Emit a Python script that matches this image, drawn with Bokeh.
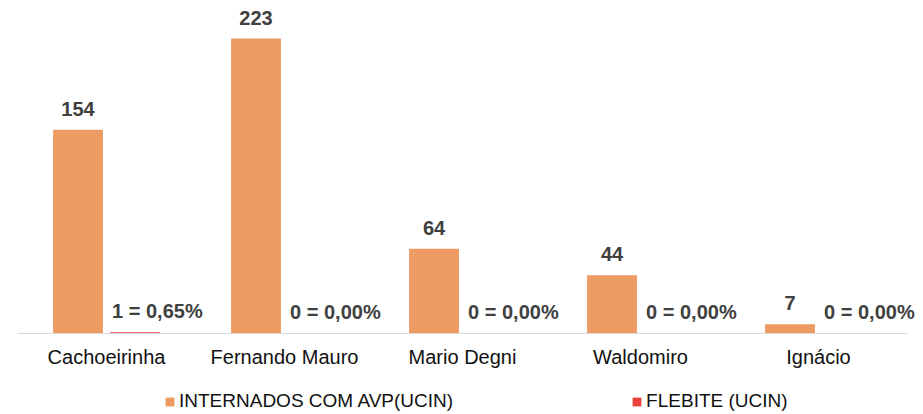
from bokeh.plotting import figure
from bokeh.models import (FactorRange, ColumnDataSource, Legend, LegendItem,
                          LabelSet, Range1d)
from bokeh.core.properties import value
from bokeh.transform import dodge
from bokeh.embed import file_html
from bokeh.resources import INLINE

categories = ["Cachoeirinha", "Fernando Mauro", "Mario Degni", "Waldomiro", "Ignácio"]
internados = [154, 223, 64, 44, 7]
flebite = [1, 0, 0, 0, 0]
internados_labels = ["154", "223", "64", "44", "7"]
flebite_labels = ["1 = 0,65%", "0 = 0,00%", "0 = 0,00%", "0 = 0,00%", "0 = 0,00%"]
series_names = ["INTERNADOS COM AVP(UCIN)", "FLEBITE (UCIN)"]

ORANGE = "#ED9B63"
RED = "#E8423A"
FONT = "Liberation Sans"

src = ColumnDataSource(dict(cat=categories, internados=internados, flebite=flebite,
                            il=internados_labels, fl=flebite_labels))

xr = FactorRange(*categories, range_padding=0.03596)
p = figure(frame_width=922, frame_height=404, x_range=xr,
           y_range=Range1d(-61.24, 244.2), output_backend="svg", toolbar_location=None,
           min_border_left=1, min_border_right=0, min_border_top=10, min_border_bottom=0)

r1 = p.vbar(x=dodge("cat", -0.16, range=p.x_range), top="internados", width=0.28,
            source=src, fill_color=ORANGE, line_color=None)
r2 = p.vbar(x=dodge("cat", 0.16, range=p.x_range), top="flebite", width=0.28,
            source=src, fill_color=RED, line_color=None)

lab1 = LabelSet(x=dodge("cat", -0.16, range=p.x_range), y="internados", text="il",
                source=src, text_align="center", text_baseline="alphabetic", y_offset=14,
                text_font=value(FONT), text_font_size=value("20px"),
                text_font_style=value("bold"), text_color=value("#404040"))
lab2 = LabelSet(x=dodge("cat", 0.02, range=p.x_range), y="flebite", text="fl",
                source=src, text_align="left", text_baseline="alphabetic", y_offset=14,
                x_offset=2,
                text_font=value(FONT), text_font_size=value("20px"),
                text_font_style=value("bold"), text_color=value("#404040"))
p.add_layout(lab1)
p.add_layout(lab2)

p.yaxis.visible = False
p.xgrid.grid_line_color = None
p.ygrid.grid_line_color = None
p.outline_line_color = None
p.xaxis.fixed_location = 0
p.xaxis.bounds = (0, len(categories))
p.xaxis.axis_line_color = "#D9D9D9"
p.xaxis.major_tick_line_color = None
p.xaxis.minor_tick_line_color = None
p.xaxis.major_tick_out = 0
p.xaxis.major_tick_in = 0
p.xaxis.major_label_text_font = FONT
p.xaxis.major_label_text_font_size = "20px"
p.xaxis.major_label_text_color = "#111111"
p.xaxis.major_label_standoff = 13

legend = Legend(items=[LegendItem(label=series_names[0], renderers=[r1]),
                       LegendItem(label=series_names[1], renderers=[r2])],
                orientation="horizontal", location=(163, 2),
                label_text_font=FONT, label_text_font_size="19px",
                label_text_color="#111111",
                glyph_width=11, glyph_height=11, label_standoff=4,
                spacing=178, padding=0, margin=0,
                border_line_color=None, background_fill_alpha=0)
p.add_layout(legend, "center")

open("out.html", "w").write(file_html(p, INLINE))
